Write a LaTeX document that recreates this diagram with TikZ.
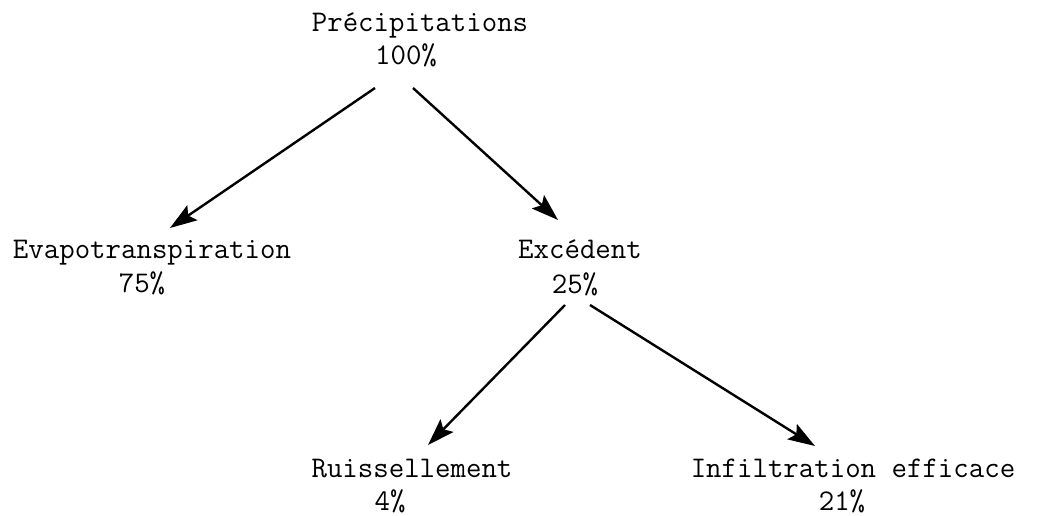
\documentclass[tikz,border=0pt]{standalone}
\usetikzlibrary{arrows.meta,calc}
\begin{document}
\begin{tikzpicture}[x=1pt,y=-1pt,
  lbl/.style={anchor=base,inner sep=0pt,font=\fontsize{30}{34}\selectfont\ttfamily},
  flow/.style={line width=2.4pt,-{Stealth[length=27pt,width=18pt,inset=5pt]}}]
\useasboundingbox[fill=white] (0,0) rectangle (1039,516);
\node[lbl] (pre)  at (420,32)  {Précipitations};
\node[lbl] (prep) at (406,65)  {100\%};
\node[lbl] (eva)  at (152,258) {Evapotranspiration};
\node[lbl] (evap) at (142,292) {75\%};
\node[lbl] (exc)  at (580,258) {Excédent};
\node[lbl] (excp) at (575,293) {25\%};
\node[lbl] (rui)  at (412,477) {Ruissellement};
\node[lbl] (ruip) at (390,510) {4\%};
\node[lbl] (inf)  at (853,477) {Infiltration efficace};
\node[lbl] (infp) at (842,510) {21\%};
\draw[flow] ($(prep.base)+(-31,23)$) -- ($(eva.base)+(18,-30)$);
\draw[flow] ($(prep.base)+(7,23)$) -- ($(exc.base)+(-22,-38)$);
\draw[flow] ($(excp.base)+(-10,12)$) -- ($(rui.base)+(16,-32)$);
\draw[flow] ($(excp.base)+(15,12)$) -- ($(inf.base)+(-38,-31)$);
\end{tikzpicture}
\end{document}
